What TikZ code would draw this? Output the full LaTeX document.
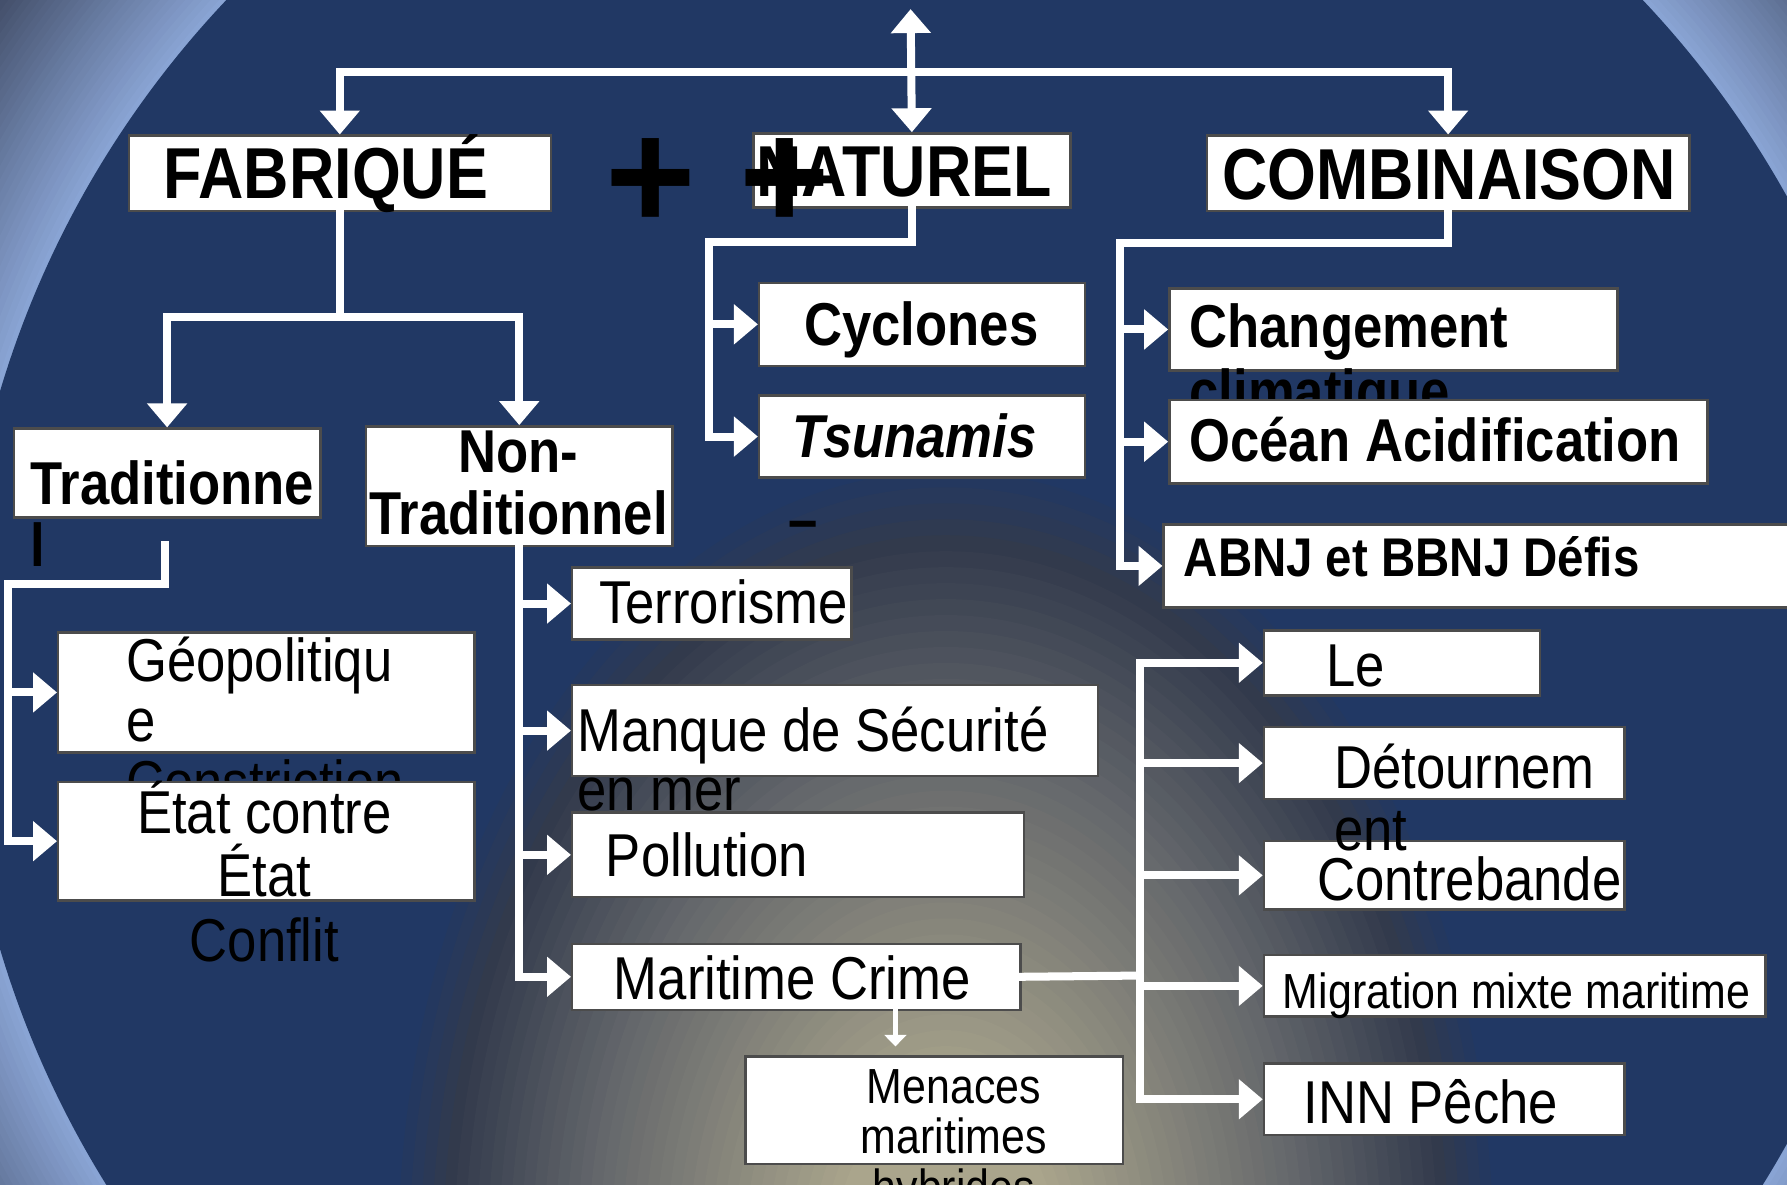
\documentclass[tikz,border=0pt]{standalone}
\usepackage{fontspec}
\newfontfamily\boxfont[FakeStretch=0.87]{Liberation Sans}
\newfontfamily\plainfont{Liberation Sans}
\usetikzlibrary{arrows.meta,calc}
\definecolor{navy}{RGB}{33,56,100}
\definecolor{bandblue}{RGB}{140,167,216}
\definecolor{cornerslate}{RGB}{58,68,92}
\definecolor{glowtan}{RGB}{170,165,140}
\definecolor{glowgray}{RGB}{100,103,107}
\definecolor{glowdark}{RGB}{50,58,76}

\begin{document}
\begin{tikzpicture}[x=0.01cm, y=-0.01cm,
    box/.style={draw=black!70, line width=0.6pt, fill=white, inner sep=0pt, anchor=north west},
    normtxt/.style={inner sep=0pt, anchor=base west, font=\boxfont\fontsize{15.1}{16}\selectfont},
    boldtxt/.style={normtxt, font=\boxfont\bfseries\fontsize{15.1}{16}\selectfont},
    bolditxt/.style={normtxt, font=\boxfont\bfseries\itshape\fontsize{15.1}{16}\selectfont},
    headtxt/.style={normtxt, font=\boxfont\bfseries\fontsize{18}{20}\selectfont},
    smalltxt/.style={normtxt, font=\boxfont\fontsize{12.3}{13}\selectfont},
    plustxt/.style={inner sep=0pt, anchor=base, font=\plainfont\bfseries\fontsize{38.7}{40}\selectfont},
    wline/.style={draw=white, line width=2pt, line cap=rect},
    arrowtip/.style={-{Triangle[width=0.34cm,length=0.21cm]}},
    bothtips/.style={{Triangle[width=0.34cm,length=0.21cm]}-{Triangle[width=0.34cm,length=0.21cm]}},
    smallarrowtip/.style={-{Triangle[width=0.19cm,length=0.10cm]}}]
    \useasboundingbox (0,0) rectangle (1568,1039);

    % Fond : bande claire autour du disque
    \begin{scope}
        \clip (0,0) rectangle (1568,1039);
        \fill[cornerslate] (0,0) rectangle (1568,1039);
        \foreach \k in {0,...,32} {
            \pgfmathsetmacro\bandpct{100*\k/32}
            \fill[bandblue!\bandpct!cornerslate] (820,588) circle ({10.3cm-\k*0.055cm});
        }
        \fill[navy] (820,588) circle (8.55cm);
        % Halo central
        \clip (820,588) circle (8.55cm);
        \foreach \k in {0,...,45} {
            \pgfmathsetmacro\glowscale{1-\k/50}
            \ifnum\k<6
                \pgfmathsetmacro\glowpct{100*\k/5}
                \colorlet{glowcur}{glowdark!\glowpct!navy}
            \else\ifnum\k<19
                \pgfmathsetmacro\glowpct{100*(\k-5)/13}
                \colorlet{glowcur}{glowgray!\glowpct!glowdark}
            \else
                \pgfmathsetmacro\glowpct{100*(\k-18)/22}
                \pgfmathsetmacro\glowpct{min(\glowpct,100)}
                \colorlet{glowcur}{glowtan!\glowpct!glowgray}
            \fi\fi
            \fill[glowcur] (830,1100) ellipse [x radius={4.9cm*\glowscale}, y radius={7cm*\glowscale}];
        }
    \end{scope}

    % Titres
    \node[box, minimum width=3.70cm, minimum height=0.66cm] (fab) at (112,118) {};
    \node[headtxt] (fabtxt) at (143,174) {FABRIQUÉ};
    \node[box, minimum width=2.78cm, minimum height=0.65cm] (nat) at (660,116) {};
    \node[headtxt] (nattxt) at (663,172) {NATUREL};
    \node[box, minimum width=4.23cm, minimum height=0.66cm] (comb) at (1058,118) {};
    \node[headtxt] (combtxt) at (1072,175) {COMBINAISON};

    % Naturel
    \node[box, minimum width=2.86cm, minimum height=0.73cm] (cyc) at (665,247) {};
    \node[boldtxt] (cyctxt) at (705,303) {Cyclones};
    \node[box, minimum width=2.86cm, minimum height=0.72cm] (tsu) at (665,346) {};
    \node[bolditxt] (tsutxt) at (695,401) {Tsunamis};
    \node[boldtxt, anchor=base] (dash) at (705,474) {–};

    % Combinaison
    \node[box, minimum width=3.93cm, minimum height=0.72cm] (chg) at (1025,252) {};
    \node[boldtxt] (chgtxt) at (1043,305) {Changement};
    \node[boldtxt] (chgtxtb) at (1043,362) {climatique};
    \node[box, minimum width=4.72cm, minimum height=0.73cm] (oce) at (1025,350) {};
    \node[boldtxt] (ocetxt) at (1043,405) {Océan Acidification};
    \node[box, minimum width=5.70cm, minimum height=0.73cm] (abnj) at (1020,459) {};
    \node[boldtxt, font=\boxfont\bfseries\fontsize{13.6}{15}\selectfont] (abnjtxt) at (1038,506) {ABNJ et BBNJ Défis};

    % Fabriqué
    \node[box, minimum width=2.69cm, minimum height=0.78cm] (trad) at (11,375) {};
    \node[boldtxt] (tradtxt) at (26,443) {Traditionne};
    \node[boldtxt] (tradtxtb) at (26,497) {l};
    \node[box, minimum width=2.69cm, minimum height=1.05cm] (ntrad) at (320,373) {};
    \node[boldtxt, anchor=base] (ntradtxt) at (455,415) {Non-};
    \node[boldtxt, anchor=base] (ntradtxtb) at (455,469) {Traditionnel};

    % Traditionnel
    \node[box, minimum width=3.65cm, minimum height=1.05cm] (geo) at (50,554) {};
    \node[normtxt] (geotxt) at (110,598) {Géopolitiqu};
    \node[normtxt] (geotxtb) at (110,651) {e};
    \node[normtxt] (geotxtc) at (110,705) {Constriction};
    \node[box, minimum width=3.65cm, minimum height=1.04cm] (etat) at (50,685) {};
    \node[normtxt, anchor=base] (etattxt) at (232,731) {État contre};
    \node[normtxt, anchor=base] (etattxtb) at (232,787) {État};
    \node[normtxt, anchor=base] (etattxtc) at (232,844) {Conflit};

    % Non-traditionnel
    \node[box, minimum width=2.45cm, minimum height=0.63cm] (terr) at (501,497) {};
    \node[normtxt] (terrtxt) at (525,547) {Terrorisme};
    \node[box, minimum width=4.61cm, minimum height=0.80cm] (manq) at (501,600) {};
    \node[normtxt] (manqtxt) at (506,659) {Manque de Sécurité};
    \node[normtxt] (manqtxtb) at (506,711) {en mer};
    \node[box, minimum width=3.96cm, minimum height=0.74cm] (poll) at (501,712) {};
    \node[normtxt] (polltxt) at (531,769) {Pollution};
    \node[box, minimum width=3.93cm, minimum height=0.58cm] (mcr) at (501,827) {};
    \node[normtxt] (mcrtxt) at (538,877) {Maritime Crime};
    \node[box, minimum width=3.31cm, minimum height=0.94cm] (men) at (653,926) {};
    \node[smalltxt, anchor=base] (mentxt) at (837,968) {Menaces};
    \node[smalltxt, anchor=base] (mentxtb) at (837,1012) {maritimes};
    \node[smalltxt, anchor=base] (mentxtc) at (837,1057) {hybrides};

    % Crime maritime
    \node[box, minimum width=2.42cm, minimum height=0.57cm] (le) at (1108,552) {};
    \node[normtxt] (letxt) at (1163,602) {Le};
    \node[box, minimum width=3.16cm, minimum height=0.63cm] (det) at (1108,637) {};
    \node[box, minimum width=3.16cm, minimum height=0.60cm] (con) at (1108,737) {};
    \node[normtxt] (dettxt) at (1170,692) {Détournem};
    \node[normtxt] (dettxtb) at (1170,746) {ent};
    \node[normtxt] (contxt) at (1155,790) {Contrebande};
    \node[box, minimum width=4.40cm, minimum height=0.54cm] (mig) at (1108,837) {};
    \node[smalltxt] (migtxt) at (1125,885) {Migration mixte maritime};
    \node[box, minimum width=3.16cm, minimum height=0.63cm] (inn) at (1108,932) {};
    \node[normtxt] (inntxt) at (1143,986) {INN Pêche};

    % Liaisons du haut
    \coordinate (apex) at (799,8);
    \coordinate (bar) at (799,63);
    \draw[wline, arrowtip] (bar) -| (fab.north);
    \draw[wline, arrowtip] (bar) -| (comb.north);
    \draw[wline, bothtips] (apex) -- (nat.north);

    % Liaisons fabriqué
    \draw[wline] (fab.south) -- ++(0,92) coordinate (fabsplit);
    \draw[wline, arrowtip] (fabsplit) -| (trad.north);
    \draw[wline, arrowtip] (fabsplit) -| (ntrad.north);

    % Liaisons traditionnel
    \coordinate (tradout) at (145,478);
    \draw[wline] (tradout) |- (7,512) coordinate (tradspine);
    \draw[wline, arrowtip] (tradspine) |- (etat.west);
    \draw[wline, arrowtip] (tradspine |- geo.west) -- (geo.west);

    % Liaisons non-traditionnel
    \draw[wline] (ntrad.south) -- (ntrad.south |- mcr.west);
    \foreach \n in {terr,manq,poll,mcr}
        \draw[wline, arrowtip] (ntrad.south |- \n.west) -- (\n.west);
    \draw[wline, line width=1.4pt, smallarrowtip] ([xshift=0.87cm]mcr.south) -- ++(0,31);

    % Liaisons naturel
    \draw[wline] (nat.south) |- (622,212) coordinate (natspine);
    \draw[wline, arrowtip] (natspine) |- (tsu.west);
    \draw[wline, arrowtip] (natspine |- cyc.west) -- (cyc.west);

    % Liaisons combinaison
    \draw[wline] (comb.south) |- (983,213) coordinate (combspine);
    \draw[wline, arrowtip] (combspine) |- (abnj.west);
    \foreach \n in {chg,oce}
        \draw[wline, arrowtip] (combspine |- \n.west) -- (\n.west);

    % Liaisons crime maritime
    \coordinate (crimespine) at (1000,856);
    \draw[wline] (mcr.east) -- (crimespine);
    \draw[wline] (crimespine |- le.west) -- (crimespine |- inn.west);
    \foreach \n in {le,det,con,mig,inn}
        \draw[wline, arrowtip] (crimespine |- \n.west) -- (\n.west);

    % Signes plus
    \node[plustxt] (plusa) at (571,201) {+};
    \node[plustxt] (plusb) at (689,201) {+};
\end{tikzpicture}
\end{document}
